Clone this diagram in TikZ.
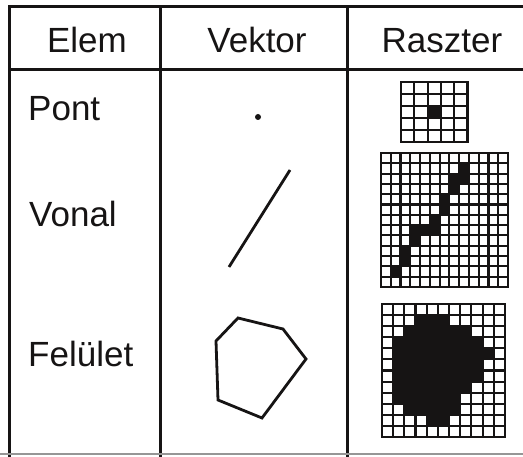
\documentclass[tikz,border=0pt]{standalone}
\usepackage{fontspec}
\setmainfont{Liberation Sans}
\definecolor{inkblack}{RGB}{22,20,20}
\definecolor{rulegrey}{RGB}{150,150,150}

\tikzset{
  head text/.style={font=\fontsize{35}{40}\selectfont, text=inkblack, inner sep=0pt, anchor=base},
  row text/.style={font=\fontsize{35}{40}\selectfont, text=inkblack, inner sep=0pt, anchor=base west},
  table line/.style={line width=3pt, inkblack},
  raster line/.style={line width=2.1pt, inkblack},
  vector line/.style={line width=2.8pt, inkblack, line join=miter}
}

% \rastergrid{x0}{y0}{cols}{rows}{cell w}{cell h}
\newcommand{\rastergrid}[6]{%
  \foreach \i in {0,...,#3} {\draw[raster line] ({#1+\i*#5},#2) -- ({#1+\i*#5},{#2+#4*#6});}
  \foreach \j in {0,...,#4} {\draw[raster line] (#1,{#2+\j*#6}) -- ({#1+#3*#5},{#2+\j*#6});}
  \draw[raster line] (#1,#2) rectangle ({#1+#3*#5},{#2+#4*#6});
}
% \rastercell{x0}{y0}{col}{row}{cell w}{cell h}
\newcommand{\rastercell}[6]{%
  \fill[inkblack] ({#1+#3*#5},{#2+#4*#6}) rectangle ++(#5,#6);
}

\begin{document}
\begin{tikzpicture}[x=1pt,y=-1pt]
    \useasboundingbox (0,0) rectangle (523,457);

    % Table rules
    \draw[table line] (523,7) -- (9.5,7) -- (9.5,457);
    \draw[table line] (9.5,70) -- (523,70);
    \draw[table line] (160,7) -- (160,457);
    \draw[table line] (347,7) -- (347,457);
    \draw[rulegrey,line width=2pt] (0,454) -- (523,454);

    % Header
    \node[head text] (elem) at (87,53) {Elem};
    \node[head text] (vektor) at (257,53) {Vektor};
    \node[head text] (raszter) at (442,53) {Raszter};

    % Row labels
    \node[row text] (pont) at (28,121) {Pont};
    \node[row text] (vonal) at (29,227) {Vonal};
    \node[row text] (felulet) at (28,367) {Felület};

    % Vector column
    \fill[inkblack] (258,117) circle (3);
    \draw[vector line] (290,170) -- (229,267);
    \draw[vector line] (238,318) -- (283,329) -- (306,359) -- (262,418)
        -- (218,400) -- (216,341) -- cycle;

    % Raster point
    \rastercell{401}{82}{2}{2}{13.3}{12}
    \rastergrid{401}{82}{5}{5}{13.3}{12}

    % Raster line
    \foreach \c/\r in {8/1,7/2,8/2,7/3,6/4,6/5,5/6,3/7,4/7,5/7,3/8,2/9,2/10,1/11}
        {\rastercell{381}{153}{\c}{\r}{9.77}{10.3}}
    \rastergrid{381}{153}{13}{13}{9.77}{10.3}

    % Raster area
    \foreach \r/\a/\b in {1/3/5,2/2/7,3/1/8,4/1/9,5/1/8,6/1/8,7/1/7,8/1/6,9/2/6,10/4/5}
        {\foreach \c in {\a,...,\b}
            {\rastercell{382}{304}{\c}{\r}{11.18}{11.08}}}
    \rastergrid{382}{304}{11}{12}{11.18}{11.08}
\end{tikzpicture}
\end{document}
